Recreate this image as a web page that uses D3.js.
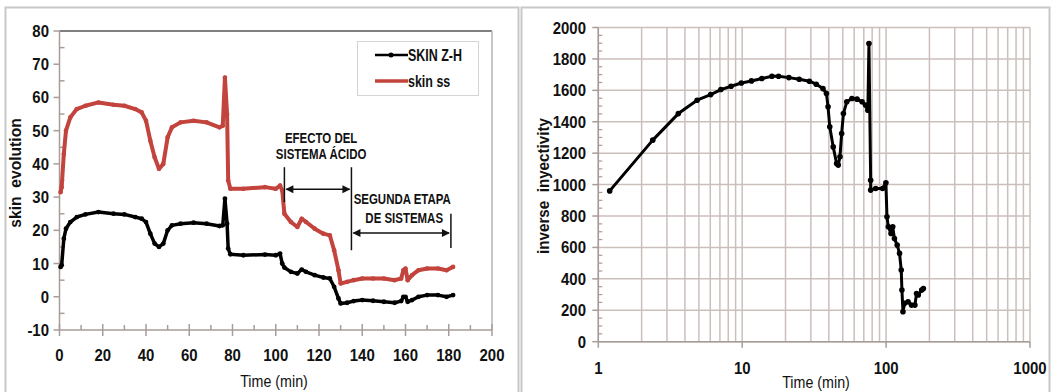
<!DOCTYPE html>
<html>
<head>
<meta charset="utf-8">
<script src="https://cdn.jsdelivr.net/npm/d3@7"></script>
<style>
  body { margin: 0; background: #fff; }
  svg { display: block; }
  text { font-family: "Liberation Sans", Arial, sans-serif; fill: #111; }
</style>
</head>
<body>
<div id="chart"></div>
<script>
// left chart: skin evolution vs time (min)
const skinTime = [0.5,1,2,3,5,8,12,18,25,30,35,38,40,42,44,46,48,50,52,56,62,68,74,75.5,76.5,77.5,78,79,85,95,100,102,103,104,107,110,112,114,118,122,125,127,129,130,133,136,140,145,150,155,158,159,160,161,163,166,170,175,179,182];
const skinZH = [9,9.5,17.5,20.5,22.5,24,24.8,25.5,25,24.8,24,23.5,22.5,19,16,15,16,20,21.5,22,22.3,22,21.3,21.5,29.5,22,14.5,12.8,12.5,12.7,12.5,13,10,8.8,7.5,7,8.2,7.5,6.5,5.8,5.5,3,-0.5,-2,-1.8,-1.3,-1,-1.2,-1.5,-1.8,-1.3,0,0,-1.5,-1,0,0.5,0.5,0,0.5];
const skinSS = [31.5,33,43,50,54,56.5,57.5,58.5,57.8,57.5,56.5,55.5,53,47,42,38.5,40,48,51,52.5,53,52.5,51,51.5,66,55,35,32.5,32.5,33,32.5,33.5,32,25,22.5,21,23.5,22.5,20.5,19,18.5,14,8,4,4.5,5,5.5,5.5,5.5,5,5.5,8,8.5,5,6.5,8,8.5,8.5,8,9];
const skinNames = ["SKIN Z-H", "skin ss"];
const leftXTicks = [0,20,40,60,80,100,120,140,160,180,200];
const leftYTicks = [-10,0,10,20,30,40,50,60,70,80];

// right chart: inverse inyectivity vs time (min), log x
const invTime = [1.2,2.39,3.6,4.86,6.04,7.11,8.37,9.86,11.6,13.7,16.1,17.9,21.1,24.9,29.3,32.7,36.4,38.5,39.5,40.6,42.9,45.3,46.5,47.8,49.1,50.5,53.3,57.9,62.8,68.1,71.9,74.7,76,78.1,78.1,84.7,94.5,99.7,101.4,103.6,108.2,111.2,114.3,119.4,124,127.4,128.8,131,134.6,142.1,150.1,158.5,162.8,167.3,176.7,181.6];
const invValue = [960,1283,1452,1537,1573,1605,1626,1647,1660,1675,1690,1690,1681,1671,1658,1639,1611,1580,1495,1368,1240,1134,1124,1177,1325,1452,1527,1548,1544,1527,1506,1474,1898,1028,965,975,975,1011,795,731,689,731,657,615,562,456,329,191,244,254,233,233,307,297,329,339];
const rightXTicks = [1,10,100,1000];
const rightYTicks = d3.range(0, 2001, 200);

const width = 1054, height = 392;
const red = "#c3433d";
const axisColor = "#a89c98";
const gridColor = "#cbbfbb";

const svg = d3.select("#chart").append("svg")
  .attr("width", width).attr("height", height);

// text squeezed horizontally (reference font is a narrow one)
function label(g, x, y, str, size, opts = {}) {
  const sx = opts.sx || 1;
  const rot = opts.rotate ? " rotate(-90)" : "";
  return g.append("text")
    .attr("transform", `translate(${x},${y})${rot} scale(${sx},1)`)
    .attr("text-anchor", opts.anchor || "middle")
    .attr("font-size", size)
    .attr("font-weight", opts.bold ? "bold" : "normal")
    .text(str);
}

// panel frames
svg.append("rect").attr("x", 5.5).attr("y", 7.5).attr("width", 513).attr("height", 400)
  .attr("fill", "none").attr("stroke", "#c8c8c8").attr("stroke-width", 2);
svg.append("rect").attr("x", 521.5).attr("y", 7.5).attr("width", 528).attr("height", 400)
  .attr("fill", "none").attr("stroke", "#c8c8c8").attr("stroke-width", 2);

// ---------- left chart ----------
const xL = d3.scaleLinear().domain([0, 200]).range([59.5, 492]);
const yL = d3.scaleLinear().domain([-10, 80]).range([330, 31]);
const gL = svg.append("g");

gL.append("line").attr("x1", xL(0)).attr("x2", xL(200)).attr("y1", yL(80)).attr("y2", yL(80))
  .attr("stroke", "#555").attr("stroke-width", 1.5);
gL.append("line").attr("x1", xL(200)).attr("x2", xL(200)).attr("y1", yL(80)).attr("y2", yL(-10))
  .attr("stroke", "#b5b5b5").attr("stroke-width", 1.5);

gL.append("line").attr("x1", xL(0)).attr("x2", xL(200)).attr("y1", yL(-10)).attr("y2", yL(-10))
  .attr("stroke", axisColor).attr("stroke-width", 1.5);
gL.append("line").attr("x1", xL(0)).attr("x2", xL(0)).attr("y1", yL(80)).attr("y2", yL(-10))
  .attr("stroke", axisColor).attr("stroke-width", 1.5);

gL.selectAll(".xmaj").data(leftXTicks).join("line")
  .attr("x1", d => xL(d)).attr("x2", d => xL(d))
  .attr("y1", yL(-10) - 6).attr("y2", yL(-10) + 6)
  .attr("stroke", axisColor).attr("stroke-width", 1.5);
gL.selectAll(".xmin").data(d3.range(10, 200, 20)).join("line")
  .attr("x1", d => xL(d)).attr("x2", d => xL(d))
  .attr("y1", yL(-10) - 5).attr("y2", yL(-10))
  .attr("stroke", axisColor).attr("stroke-width", 1.5);
gL.selectAll(".ymaj").data(leftYTicks).join("line")
  .attr("x1", xL(0) - 6).attr("x2", xL(0))
  .attr("y1", d => yL(d)).attr("y2", d => yL(d))
  .attr("stroke", axisColor).attr("stroke-width", 1.5);
gL.selectAll(".ymin").data(d3.range(-5, 80, 10)).join("line")
  .attr("x1", xL(0)).attr("x2", xL(0) + 5)
  .attr("y1", d => yL(d)).attr("y2", d => yL(d))
  .attr("stroke", axisColor).attr("stroke-width", 1.5);

leftXTicks.forEach(d => label(gL, xL(d), yL(-10) + 31, d, 17, { bold: true, sx: 0.88 }));
leftYTicks.forEach(d => label(gL, 49, yL(d) + 6, d, 17, { bold: true, sx: 0.88, anchor: "end" }));

label(gL, 274, 387, "Time (min)", 17, { sx: 0.84 });
label(gL, 21, 173, "skin\u00A0\u00A0evolution", 17, { bold: true, sx: 0.92, rotate: true });

// series
const lineL = d3.line().x(d => xL(d[0])).y(d => yL(d[1]));
const ssPts = skinTime.map((t, i) => [t, skinSS[i]]);
const zhPts = skinTime.map((t, i) => [t, skinZH[i]]);

gL.append("path").datum(ssPts).attr("d", lineL)
  .attr("fill", "none").attr("stroke", red).attr("stroke-width", 4).attr("stroke-linejoin", "round");
gL.selectAll(".ssdot").data(ssPts).join("circle")
  .attr("cx", d => xL(d[0])).attr("cy", d => yL(d[1])).attr("r", 2.3).attr("fill", red);
gL.append("path").datum(zhPts).attr("d", lineL)
  .attr("fill", "none").attr("stroke", "#000").attr("stroke-width", 3.5).attr("stroke-linejoin", "round");
gL.selectAll(".zhdot").data(zhPts).join("circle")
  .attr("cx", d => xL(d[0])).attr("cy", d => yL(d[1])).attr("r", 2.4).attr("fill", "#000");

// legend
const leg = gL.append("g");
leg.append("rect").attr("x", 357.5).attr("y", 41.5).attr("width", 121).attr("height", 54)
  .attr("fill", "#fff").attr("stroke", "#d4d4d4");
leg.append("line").attr("x1", 375).attr("x2", 408).attr("y1", 55).attr("y2", 55)
  .attr("stroke", "#000").attr("stroke-width", 2.5);
leg.append("circle").attr("cx", 391).attr("cy", 55).attr("r", 2.5).attr("fill", "#000");
leg.append("line").attr("x1", 375).attr("x2", 408).attr("y1", 81).attr("y2", 81)
  .attr("stroke", red).attr("stroke-width", 3.5);
skinNames.forEach((d, i) => label(leg, 408, 61 + i * 26, d, 16, { bold: true, sx: 0.78, anchor: "start" }));

// annotations
const ann = gL.append("g").attr("stroke", "#111").attr("stroke-width", 1.5);
ann.append("line").attr("x1", xL(104)).attr("x2", xL(104)).attr("y1", yL(39)).attr("y2", yL(28.5));
ann.append("line").attr("x1", xL(135)).attr("x2", xL(135)).attr("y1", yL(39)).attr("y2", yL(14));
ann.append("line").attr("x1", xL(181)).attr("x2", xL(181)).attr("y1", yL(25)).attr("y2", yL(14.7));

function dblArrow(x1, x2, y) {
  ann.append("line").attr("x1", x1 + 2).attr("x2", x2 - 2).attr("y1", y).attr("y2", y);
  ann.append("path").attr("d", `M${x1 + 1},${y}l8,-4l0,8z`).attr("fill", "#111").attr("stroke", "none");
  ann.append("path").attr("d", `M${x2 - 1},${y}l-8,-4l0,8z`).attr("fill", "#111").attr("stroke", "none");
}
dblArrow(xL(104), xL(135), yL(32.4));
dblArrow(xL(135), xL(181), yL(19.2));

const notes = [
  ["EFECTO DEL", 121, 48.2],
  ["SISTEMA ÁCIDO", 121, 43.3],
  ["SEGUNDA ETAPA", 158.5, 29.7],
  ["DE SISTEMAS", 159.4, 24]
];
notes.forEach(n => label(gL, xL(n[1]), yL(n[2]) + 6, n[0], 15.5, { bold: true, sx: 0.74 }));

// ---------- right chart ----------
const xR = d3.scaleLog().domain([1, 1000]).range([598.3, 1030]);
const yR = d3.scaleLinear().domain([0, 2000]).range([341.7, 27.5]);
const gR = svg.append("g");

const logGrid = [];
[1, 10, 100].forEach(dec => { for (let k = 1; k < 10; k++) logGrid.push(dec * k); });
logGrid.push(1000);

gR.selectAll(".vg").data(logGrid).join("line")
  .attr("x1", d => xR(d)).attr("x2", d => xR(d))
  .attr("y1", yR(2000)).attr("y2", yR(0))
  .attr("stroke", gridColor).attr("stroke-width", 1.5);
gR.selectAll(".hg").data(rightYTicks).join("line")
  .attr("x1", xR(1)).attr("x2", xR(1000))
  .attr("y1", d => yR(d)).attr("y2", d => yR(d))
  .attr("stroke", gridColor).attr("stroke-width", 1.5);

gR.append("line").attr("x1", xR(1)).attr("x2", xR(1000)).attr("y1", yR(0)).attr("y2", yR(0))
  .attr("stroke", axisColor).attr("stroke-width", 1.5);
gR.append("line").attr("x1", xR(1)).attr("x2", xR(1)).attr("y1", yR(2000)).attr("y2", yR(0))
  .attr("stroke", axisColor).attr("stroke-width", 1.5);
gR.selectAll(".xt").data(rightXTicks).join("line")
  .attr("x1", d => xR(d)).attr("x2", d => xR(d))
  .attr("y1", yR(0)).attr("y2", yR(0) + 6)
  .attr("stroke", axisColor).attr("stroke-width", 1.5);
gR.selectAll(".yt").data(rightYTicks).join("line")
  .attr("x1", xR(1) - 6).attr("x2", xR(1))
  .attr("y1", d => yR(d)).attr("y2", d => yR(d))
  .attr("stroke", axisColor).attr("stroke-width", 1.5);
gR.selectAll(".ymn").data(d3.range(50, 2000, 50).filter(v => v % 200 !== 0)).join("line")
  .attr("x1", xR(1)).attr("x2", xR(1) + 4)
  .attr("y1", d => yR(d)).attr("y2", d => yR(d))
  .attr("stroke", axisColor).attr("stroke-width", 1.2);

rightXTicks.forEach(d => label(gR, xR(d), yR(0) + 32, d, 17, { bold: true, sx: 0.88 }));
rightYTicks.forEach(d => label(gR, 586, yR(d) + 6, d, 17, { bold: true, sx: 0.88, anchor: "end" }));

label(gR, 816, 388, "Time (min)", 17, { sx: 0.84 });
label(gR, 549, 186, "inverse\u00A0\u00A0inyectivity", 16, { bold: true, sx: 0.95, rotate: true });

const invPts = invTime.map((t, i) => [t, invValue[i]]);
const lineR = d3.line().x(d => xR(d[0])).y(d => yR(d[1]));
gR.append("path").datum(invPts).attr("d", lineR)
  .attr("fill", "none").attr("stroke", "#000").attr("stroke-width", 3).attr("stroke-linejoin", "round");
gR.selectAll(".idot").data(invPts).join("circle")
  .attr("cx", d => xR(d[0])).attr("cy", d => yR(d[1])).attr("r", 2.8).attr("fill", "#000");
</script>
</body>
</html>
